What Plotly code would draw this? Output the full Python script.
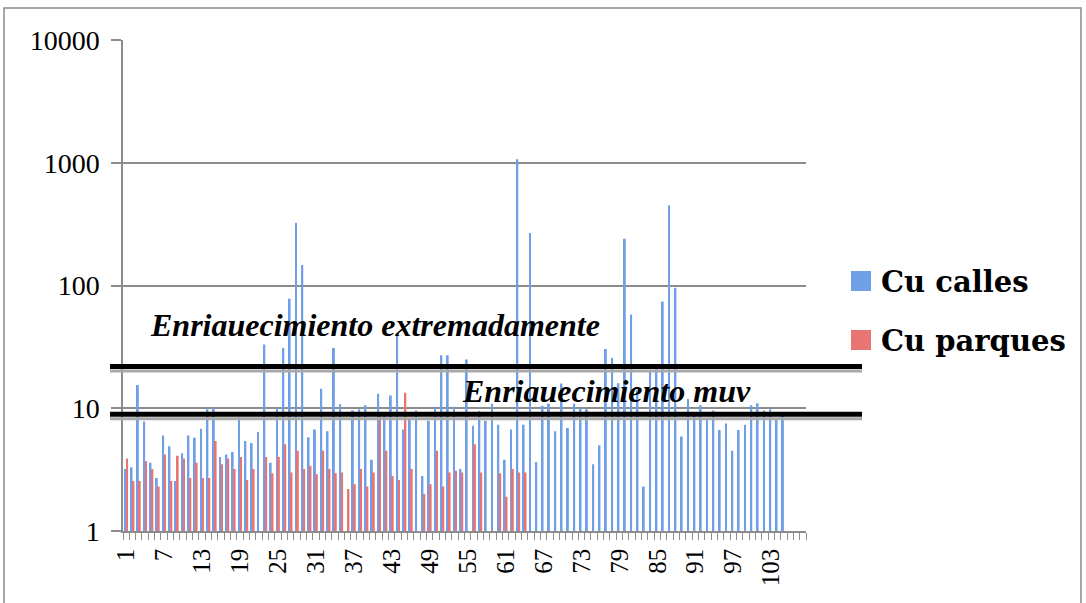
import plotly.graph_objects as go

# ---------------- data ----------------
categories = list(range(1, 109))
cu_calles = [3.2, 3.3, 15.5, 7.8, 3.6, 2.7, 6.0, 4.9, 2.55, 4.3,
             6.0, 5.75, 6.8, 9.8, 10.0, 4.0, 4.2, 4.4, 8.5, 5.4,
             5.2, 6.4, 33, 3.6, 10, 31, 78, 325, 147, 5.8,
             6.7, 14.4, 6.5, 31, 10.8, None, 9.6, 9.8, 10.6, 3.8,
             13.1, 9.3, 12.7, 39.5, 6.7, 8.1, 9.6, 2.8, 7.9, 10.3,
             27, 27, 10.3, 3.2, 25, 7.2, 9.5, 7.9, 10.9, 7.35,
             3.8, 6.7, 1070, 7.35, 268, 3.65, 10.5, 10.9, 6.5, 15.9,
             6.9, 10.9, 10.1, 9.8, 3.5, 5.0, 30.4, 25.7, 16, 240,
             58, 14, 2.3, 20, 21.8, 74, 450, 96, 5.9, 11.9,
             8.7, 10.6, 8.3, 9.6, 6.65, 7.5, 4.5, 6.65, 7.35, 10.6,
             11.0, 9.6, 9.8, 8.1, 8.7, None, None, None]
cu_parques = [3.9, 2.55, 2.55, 3.7, 3.2, 2.3, 4.2, 2.55, 4.1, 3.9,
              2.7, 3.6, 2.7, 2.7, 5.4, 3.5, 3.9, 3.2, 4.0, 2.6,
              3.2, None, 4.0, 2.95, 4.0, 5.1, 3.0, 4.5, 3.2, 3.4,
              2.9, 4.5, 3.2, 2.95, 3.0, 2.2, 2.4, 3.2, 2.3, 3.0,
              8.7, 4.5, 2.8, 2.6, 13.4, 3.2, None, 2.0, 2.4, 4.5,
              2.3, 3.0, 3.1, 3.0, None, 5.1, 3.0, None, None, 2.95,
              1.9, 3.2, 3.0, 3.0]
cu_parques = cu_parques + [None] * (len(categories) - len(cu_parques))
x_tick_labels = [str(v) for v in range(1, 109, 6)]
y_tick_values = [1, 10, 100, 1000, 10000]
y_tick_labels = ["1", "10", "100", "1000", "10000"]
series_names = ["Cu calles", "Cu parques"]
band_labels = ["Enriauecimiento extremadamente", "Enriauecimiento muv"]

# ---------------- layout helpers ----------------
W, H = 1086, 603
L, R, T, B = 123, 806, 40, 531


def px(x):
    return (x - L) / (R - L)


def py(y):
    return (B - y) / (B - T)


BLUE = "#6f9fe6"
RED = "#e87474"
GRID = "#8c8c8c"

fig = go.Figure()
fig.add_trace(go.Bar(x=categories, y=cu_calles, name=series_names[0],
                     marker=dict(color=BLUE, line=dict(width=0)), showlegend=False))
fig.add_trace(go.Bar(x=categories, y=cu_parques, name=series_names[1],
                     marker=dict(color=RED, line=dict(width=0)), showlegend=False))

shapes = []
# outer chart border
shapes.append(dict(type="rect", xref="paper", yref="paper",
                   x0=px(4), x1=px(1081), y0=py(640), y1=py(8),
                   line=dict(color="#8a8a8a", width=1.5), layer="below"))
# threshold lines with shadow
for yl in (366.5, 414.3):
    shapes.append(dict(type="line", xref="paper", yref="paper",
                       x0=px(110), x1=px(862), y0=py(yl + 4.5), y1=py(yl + 4.5),
                       line=dict(color="#a8a8a8", width=3), layer="above"))
    shapes.append(dict(type="line", xref="paper", yref="paper",
                       x0=px(110), x1=px(862), y0=py(yl), y1=py(yl),
                       line=dict(color="black", width=5), layer="above"))
# legend squares
for (y0, y1, c) in ((271, 291, BLUE), (330, 350, RED)):
    shapes.append(dict(type="rect", xref="paper", yref="paper",
                       x0=px(851), x1=px(871), y0=py(y1), y1=py(y0),
                       fillcolor=c, line=dict(color=c, width=0), layer="above"))

annotations = [
    dict(text="<b><i>%s</i></b>" % band_labels[0], xref="paper", yref="paper",
         x=px(148), y=py(325), xanchor="left", yanchor="middle", showarrow=False,
         font=dict(family="Liberation Serif", size=32, color="black")),
    dict(text="<b><i>%s</i></b>" % band_labels[1], xref="paper", yref="paper",
         x=px(460), y=py(391), xanchor="left", yanchor="middle", showarrow=False,
         font=dict(family="Liberation Serif", size=32, color="black")),
    dict(text="<b>%s</b>" % series_names[0], xref="paper", yref="paper",
         x=px(879), y=py(282), xanchor="left", yanchor="middle", showarrow=False,
         font=dict(family="DejaVu Serif", size=29, color="black")),
    dict(text="<b>%s</b>" % series_names[1], xref="paper", yref="paper",
         x=px(879), y=py(341), xanchor="left", yanchor="middle", showarrow=False,
         font=dict(family="DejaVu Serif", size=29, color="black")),
]

fig.update_layout(
    width=W, height=H,
    margin=dict(l=L, r=W - R, t=T, b=H - B),
    paper_bgcolor="white", plot_bgcolor="white",
    barmode="group", bargap=0.4, bargroupgap=0.0,
    shapes=shapes, annotations=annotations,
    showlegend=False,
    xaxis=dict(
        range=[0.5, 108.5], tickmode="array",
        tickvals=list(range(1, 109, 6)), ticktext=x_tick_labels,
        tickangle=-90, ticks="", showgrid=False, zeroline=False,
        showline=True, linecolor=GRID, linewidth=1.5,
        ticklabelstandoff=6,
        tickfont=dict(family="Liberation Serif", size=25, color="black"),
        minor=dict(tickmode="linear", tick0=0.5, dtick=1, ticks="outside",
                   ticklen=7, tickcolor=GRID, tickwidth=1.2, showgrid=False),
    ),
    yaxis=dict(
        type="log", range=[0, 4], tickmode="array",
        tickvals=y_tick_values, ticktext=y_tick_labels,
        ticks="outside", ticklen=10, tickcolor=GRID, tickwidth=1.5,
        showgrid=True, gridcolor=GRID, gridwidth=1.5,
        showline=True, linecolor=GRID, linewidth=1.5, zeroline=False,
        ticklabelstandoff=6,
        tickfont=dict(family="Liberation Serif", size=28, color="black"),
    ),
)

fig.write_html("out.html")
